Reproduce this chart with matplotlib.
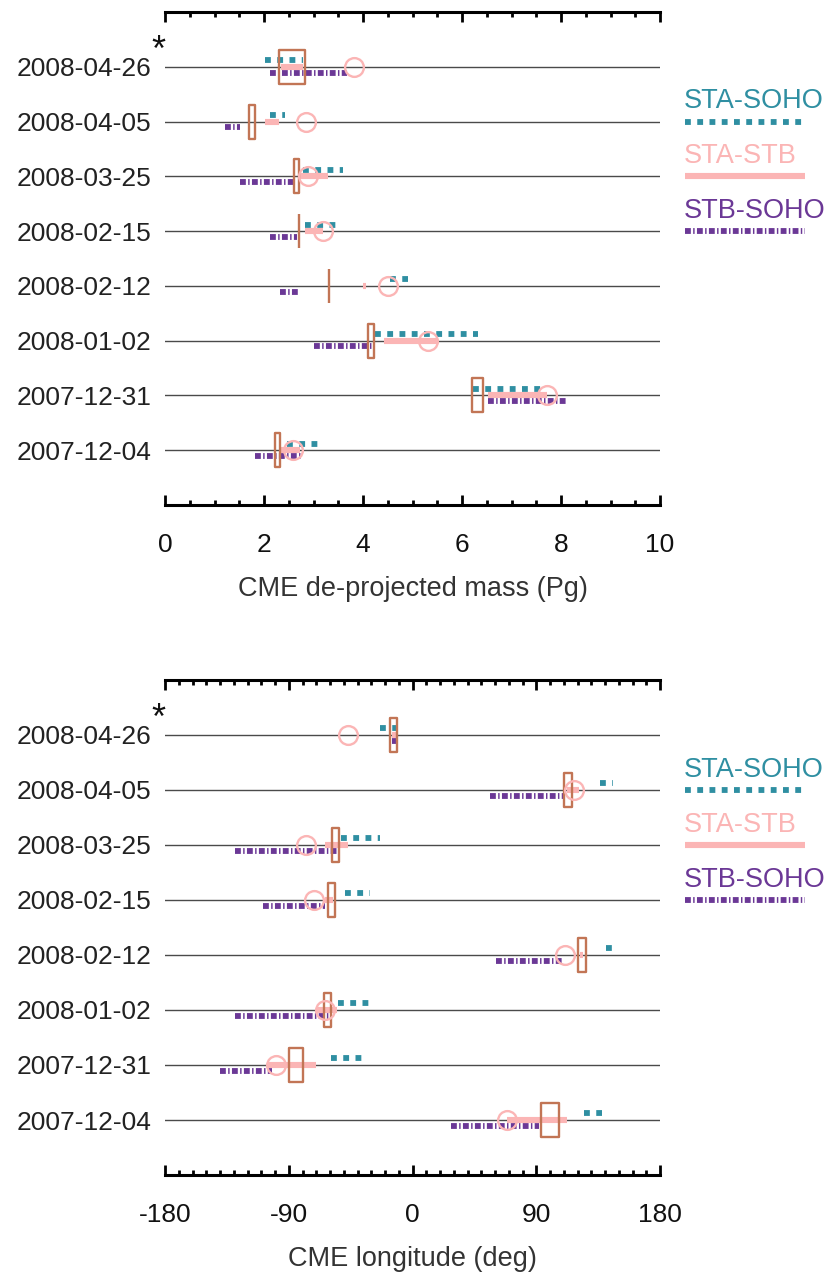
import matplotlib
matplotlib.use('Agg')
import matplotlib.pyplot as plt
from matplotlib.patches import Rectangle
from matplotlib.lines import Line2D
from matplotlib.ticker import MultipleLocator
import matplotlib.transforms as mtransforms

plt.rcParams['font.family'] = ['Liberation Sans', 'DejaVu Sans']

# rows from top to bottom
dates = ['2008-04-26', '2008-04-05', '2008-03-25', '2008-02-15',
         '2008-02-12', '2008-01-02', '2007-12-31', '2007-12-04']

# CME de-projected mass (Pg): ranges per spacecraft pair
mass_sta_soho = [(2.02, 2.79), (2.12, 2.42), (2.79, 3.59), (2.83, 3.45),
                 (4.55, 4.91), (4.24, 6.33), (6.23, 7.59), (2.46, 3.11)]
mass_sta_stb = [(2.34, 2.79), (2.02, 2.31), (2.71, 3.30), (2.83, 3.20),
                (4.00, 4.06), (4.42, 5.49), (6.53, 7.71), (2.34, 2.73)]
mass_stb_soho = [(2.12, 3.67), (1.21, 1.52), (1.52, 2.59), (2.12, 2.66),
                 (2.32, 2.71), (3.02, 4.20), (6.53, 8.11), (1.82, 2.77)]
mass_circle = [3.82, 2.85, 2.88, 3.19, 4.51, 5.31, 7.72, 2.59]
mass_box = [(2.31, 2.82), (1.70, 1.82), (2.61, 2.71), (2.71, 2.71),
            (3.32, 3.32), (4.11, 4.22), (6.21, 6.43), (2.22, 2.32)]

# CME longitude (deg)
lon_sta_soho = [(-24, -12), (136, 146), (-52, -24), (-49, -31),
                (141, 146), (-54, -32), (-59, -37), (125, 138)]
lon_sta_stb = [(-15, -12), (112, 121), (-64, -47), (-64, -58),
               (122, 124), (-70, -55), (-105, -70), (69, 112)]
lon_stb_soho = [(-15, -12), (56, 110), (-129, -54), (-109, -64),
                (61, 109), (-129, -61), (-140, -102), (28, 92)]
lon_circle = [-47, 117.5, -77.5, -72, 111, -64, -99, 68.5]
lon_box = [(-16.4, -11.1), (110.4, 116.2), (-58.3, -53.5), (-61.2, -56.4),
           (120.6, 126), (-64.4, -59.5), (-89.6, -79.4), (93.5, 106.8)]

teal = '#2f8fa2'
pink = '#fbb5b5'
purple = '#6b3896'
brown = '#c27555'

style_teal = dict(color=teal, lw=4.2, linestyle=(0, (1.0, 1.1)))
style_pink = dict(color=pink, lw=4.4, solid_capstyle='butt')
style_purple = dict(color=purple, lw=4.2, linestyle=(0, (1.0, 0.4, 0.25, 0.4)))

fig = plt.figure(figsize=(8.3, 12.74), dpi=100)
ax1 = fig.add_axes([0.1988, 0.6036, 0.5964, 0.3870])
ax2 = fig.add_axes([0.1988, 0.0777, 0.5964, 0.3886])


def draw_panel(ax, sta_soho, sta_stb, stb_soho, circ, box, xlim, minor, xlabel, ticks):
    n = len(dates)
    ys = [n - i for i in range(n)]
    for i, y in enumerate(ys):
        ax.axhline(y, color='#4a4a4a', lw=1.0, zorder=1)
        ax.plot(stb_soho[i], [y - 0.105] * 2, zorder=2, **style_purple)
        ax.plot(sta_soho[i], [y + 0.12] * 2, zorder=2, **style_teal)
        ax.plot(sta_stb[i], [y, y], zorder=3, **style_pink)
        x0, x1 = box[i]
        ax.add_patch(Rectangle((x0, y - 0.31), x1 - x0, 0.62, fill=False,
                               edgecolor=brown, lw=1.7, joinstyle='round', zorder=4))
        ax.plot(circ[i], y, 'o', ms=13.5, mfc='none', mec=pink, mew=1.7, zorder=5)

    ax.set_xlim(*xlim)
    ax.set_ylim(0, 9)
    ax.set_yticks(ys)
    ax.set_yticklabels(dates, fontsize=19, color='#222222')
    ax.tick_params(axis='y', length=0, pad=10)
    ax.set_xticks(ticks)
    ax.set_xticklabels([str(t) for t in ticks], fontsize=19, color='#111111')
    ax.xaxis.set_minor_locator(MultipleLocator(minor))
    ax.tick_params(axis='x', which='major', direction='in', length=7, width=2,
                   top=True, bottom=True, pad=20)
    ax.tick_params(axis='x', which='minor', direction='in', length=3.5, width=2,
                   top=True, bottom=True)
    for s in ['left', 'right']:
        ax.spines[s].set_visible(False)
    for s in ['top', 'bottom']:
        ax.spines[s].set_linewidth(2.2)
    ax.set_xlabel(xlabel, fontsize=19.5, color='#333333', labelpad=14)

    tr = mtransforms.blended_transform_factory(ax.transAxes, ax.transData)
    # asterisk next to first date
    ax.text(-0.014, ys[0] + 0.28, '*', transform=tr,
            ha='center', va='center', fontsize=26, color='#111111')

    # legend: text above a line sample
    entries = [('STA-SOHO', teal, style_teal, ys[1]),
               ('STA-STB', pink, style_pink, ys[2]),
               ('STB-SOHO', purple, style_purple, ys[3])]
    for label, col, st, y in entries:
        ax.text(1.048, y + 0.37, label, transform=tr, color=col, fontsize=19.5,
                ha='left', va='center', clip_on=False)
        ln = Line2D([1.05, 1.292], [y, y], transform=tr, clip_on=False, **st)
        ax.add_line(ln)


draw_panel(ax1, mass_sta_soho, mass_sta_stb, mass_stb_soho, mass_circle, mass_box,
           (0, 10), 0.5, 'CME de-projected mass (Pg)', [0, 2, 4, 6, 8, 10])
draw_panel(ax2, lon_sta_soho, lon_sta_stb, lon_stb_soho, lon_circle, lon_box,
           (-180, 180), 10, 'CME longitude (deg)', [-180, -90, 0, 90, 180])

fig.savefig('out.png', dpi=100)
